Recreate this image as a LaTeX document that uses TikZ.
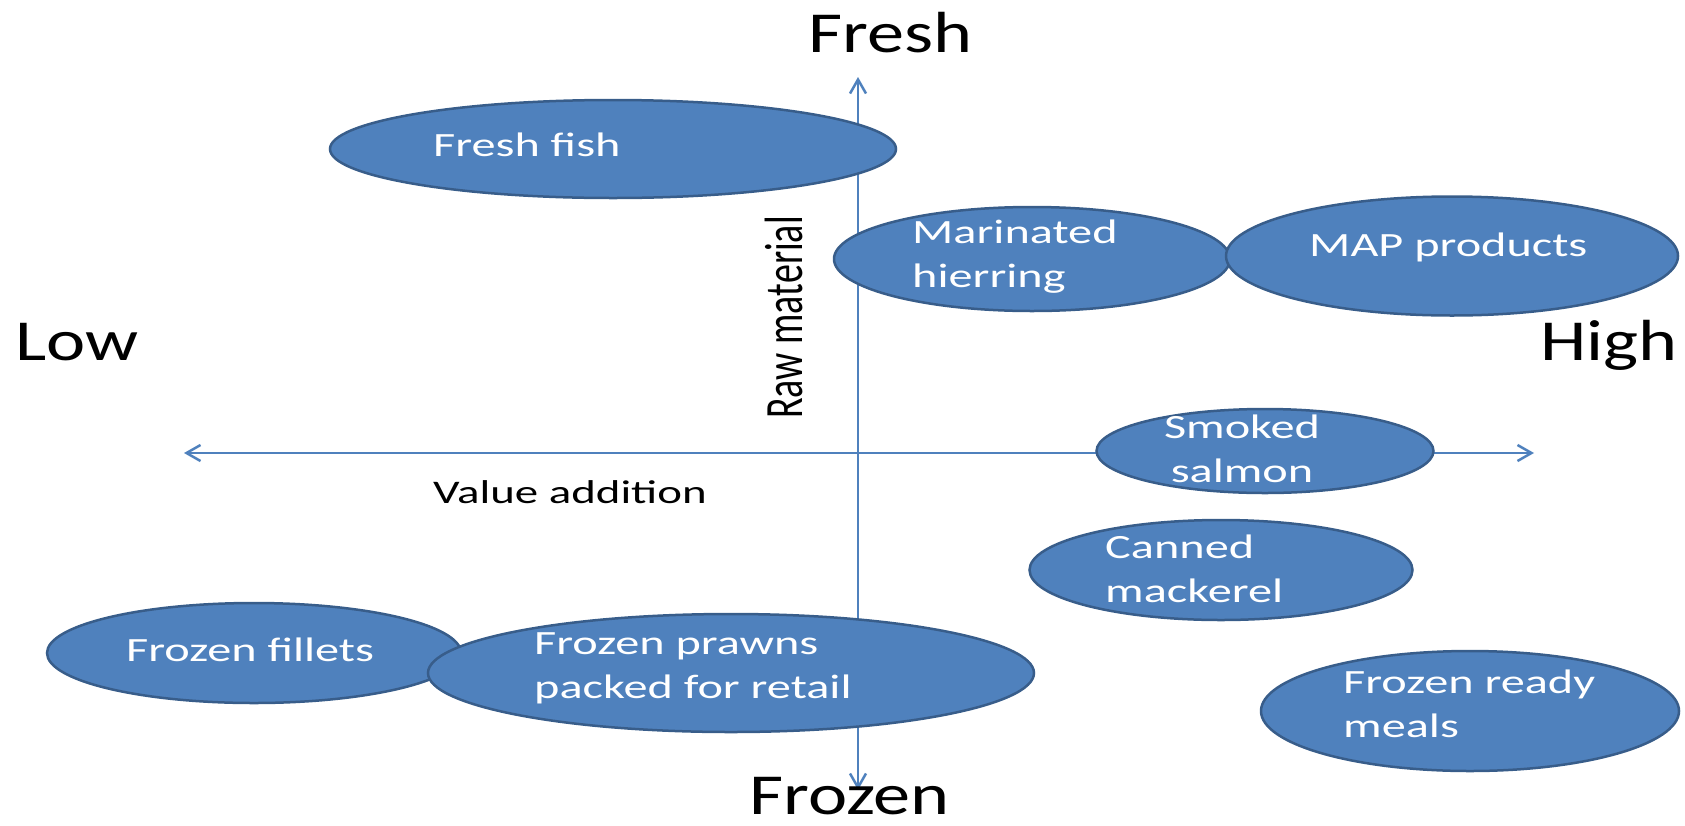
\documentclass[tikz,border=0pt]{standalone}
\usepackage{fontspec}
\setmainfont{Carlito}
\newfontfamily\widefont[FakeStretch=1.42]{Carlito}
\newfontfamily\headfont[FakeStretch=1.28]{Carlito}
\usetikzlibrary{arrows.meta,shapes.geometric}
\definecolor{officeblue}{HTML}{4F81BD}
\definecolor{officeedge}{HTML}{385D8A}

\begin{document}
\begin{tikzpicture}[x=1pt, y=-1pt,
  blob/.style={ellipse, draw=officeedge, line width=2.5pt, fill=officeblue, inner sep=0pt},
  lbl/.style={text=white, font=\widefont\fontsize{34}{44}\selectfont, align=left, inner sep=0pt, anchor=base west},
  pole/.style={font=\headfont\fontsize{58}{70}\selectfont, inner sep=0pt, anchor=base west},
  axis/.style={draw=officeblue, line width=2.5pt, {Straight Barb[length=14pt,width=16pt]}-{Straight Barb[length=14pt,width=16pt]}}
]
\useasboundingbox (0,0) rectangle (1685,825);

% axes
\coordinate (top) at (858,77);
\coordinate (bottom) at (858,790);
\coordinate (left) at (184,453);
\coordinate (right) at (1534,453);
\draw[axis] (left) -- (right);
\draw[axis] (bottom) -- (top);

% products
\node[blob, minimum width=566pt, minimum height=98pt] (freshfish) at (613,149) {};
\node[blob, minimum width=396pt, minimum height=104pt] (marinated) at (1032,259) {};
\node[blob, minimum width=452pt, minimum height=119pt] (map) at (1452,256) {};
\node[blob, minimum width=337pt, minimum height=84pt] (smoked) at (1265,451) {};
\node[blob, minimum width=383pt, minimum height=100pt] (canned) at (1221,570) {};
\node[blob, minimum width=414pt, minimum height=100pt] (fillets) at (254,653) {};
\node[blob, minimum width=606pt, minimum height=118pt] (prawns) at (731,673) {};
\node[blob, minimum width=418pt, minimum height=120pt] (ready) at (1470,711) {};

% labels (base = last line)
\node[lbl] (freshfishtxt) at (433,156) {Fresh fish};
\node[lbl] (marinatedtxt) at (912,287) {Marinated\\hierring};
\node[lbl] (maptxt) at (1309,256) {MAP products};
\node[lbl, align=center, anchor=base] (smokedtxt) at (1242,482) {Smoked\\salmon};
\node[lbl] (cannedtxt) at (1105,602) {Canned\\mackerel};
\node[lbl] (filletstxt) at (126,661) {Frozen fillets};
\node[lbl] (prawnstxt) at (534,698) {Frozen prawns\\packed for retail};
\node[lbl] (readytxt) at (1343,737) {Frozen ready\\meals};

% axis labels
\node[pole] (fresh) at (808,52) {Fresh};
\node[pole] (frozen) at (749,814) {Frozen};
\node[pole] (low) at (15,360) {Low};
\node[pole] (high) at (1540,360) {High};
\node[lbl, text=black, font=\widefont\fontsize{33}{40}\selectfont] (value) at (433,503) {Value addition};
\node[font=\fontsize{38}{44}\selectfont, rotate=90, anchor=base west, inner sep=0pt] (raw) at (802,419) {\scalebox{1}[1.42]{Raw material}};
\end{tikzpicture}
\end{document}
